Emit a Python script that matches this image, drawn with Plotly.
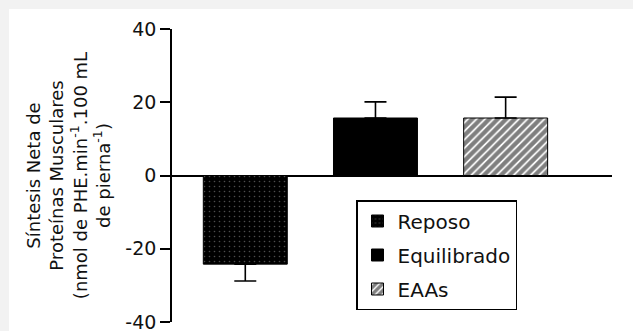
import plotly.graph_objects as go

categories = ["Reposo", "Equilibrado", "EAAs"]
values = [-24.2, 15.7, 15.7]
err_plus = [0, 4.4, 5.7]
err_minus = [4.6, 0, 0]
y_ticks = [-40, -20, 0, 20, 40]
y_tick_labels = ["-40", "-20", "0", "20", "40"]

W, H = 633, 331
L, R, T, B = 172, 21, 29, 9
pw, ph = W - L - R, H - T - B

patterns = [
    dict(shape=".", fgcolor="#999999", bgcolor="#000000", size=5, solidity=0.08, fillmode="overlay"),
    dict(shape="", fgcolor="#000000", bgcolor="#000000"),
    dict(shape="/", fgcolor="#000000", bgcolor="#ffffff", size=6, solidity=0.7, fillmode="overlay"),
]

fig = go.Figure()
for i, (c, v) in enumerate(zip(categories, values)):
    fig.add_trace(go.Bar(
        x=[i], y=[v], name=c, width=0.645,
        marker=dict(color="#000000", line=dict(color="#000000", width=1), pattern=patterns[i]),
        error_y=dict(type="data", symmetric=False, array=[err_plus[i]], arrayminus=[err_minus[i]],
                     color="#000000", thickness=1.6, width=11),
        legendgroup=c,
    ))

fig.update_layout(
    width=W, height=H,
    margin=dict(l=L, r=R, t=T, b=B, autoexpand=False),
    paper_bgcolor="#f2f2f2", plot_bgcolor="#ffffff",
    barmode="overlay",
    font=dict(family="DejaVu Sans", size=18, color="#111111"),
    showlegend=True,
    legend=dict(x=(356 - L) / pw, y=(H - B - 200) / ph, xanchor="left", yanchor="top",
                bgcolor="#ffffff", bordercolor="#000000", borderwidth=1.5,
                font=dict(size=20), tracegroupgap=5, traceorder="grouped"),
    xaxis=dict(range=[-0.563, 2.817], visible=False),
    yaxis=dict(range=[-40, 40], tickvals=y_ticks, ticktext=y_tick_labels,
               ticks="outside", ticklen=10, tickwidth=1.5, automargin=False,
               ticklabeloverflow="allow",
               tickcolor="#000000", showline=True, linecolor="#000000", linewidth=1.6,
               showgrid=False, zeroline=True, zerolinecolor="#000000", zerolinewidth=1.6,
               tickfont=dict(size=19),
               title=dict(text="Síntesis Neta de<br>Proteínas Musculares<br>(nmol de PHE.min<sup>-1</sup>.100 mL<br>de pierna<sup>-1</sup>)",
                          font=dict(size=18), standoff=10)),
    shapes=[dict(type="rect", xref="paper", yref="paper", layer="below",
                 x0=(9 - L) / pw, x1=(W - L) / pw, y0=-B / ph, y1=(H - B - 9) / ph,
                 fillcolor="#ffffff", line=dict(width=0))],
)

fig.write_html("out.html", config={"displayModeBar": False},
               post_script="document.body.style.margin='0';document.body.style.overflow='hidden';")
